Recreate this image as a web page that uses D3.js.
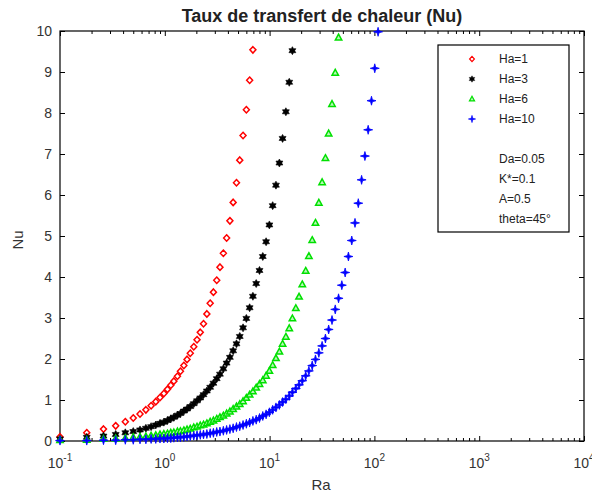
<!DOCTYPE html>
<html>
<head>
<meta charset="utf-8">
<script src="https://cdn.jsdelivr.net/npm/d3@7"></script>
<style>
body { margin: 0; background: #fff; }
text { font-family: "Liberation Sans", Arial, sans-serif; }
</style>
</head>
<body>
<svg id="chart"></svg>
<script>
// Ra grid shared by all series
const raValues = [0.1, 0.18, 0.26, 0.34, 0.42, 0.5, 0.58, 0.66, 0.74, 0.82, 0.9, 0.98, 1.06,
    1.14, 1.22, 1.32, 1.41, 1.52, 1.63, 1.75, 1.89, 2.03, 2.18,
    2.34, 2.52, 2.71, 2.91, 3.13, 3.36, 3.62, 3.89, 4.18, 4.49,
    4.83, 5.19, 5.58, 6.0, 6.45, 6.93, 7.45, 8.01, 8.61, 9.26,
    9.95, 10.7, 11.5, 12.4, 13.3, 14.3, 15.4, 16.5, 17.8, 19.1,
    20.5, 22.1, 23.7, 25.5, 27.4, 29.5, 31.7, 34.1, 36.6, 39.4,
    42.3, 45.5, 48.9, 52.6, 56.5, 60.8, 65.3, 70.2, 75.5, 81.2,
    87.2, 93.8, 100.8, 108.4];

// Nu values, one array per Ha (stop where the curve leaves the plot)
const nuHa1 = [0.10, 0.20, 0.29, 0.37, 0.47, 0.56, 0.66, 0.76, 0.86, 0.96, 1.06, 1.16, 1.26,
    1.36, 1.46, 1.58, 1.70, 1.84, 1.99, 2.14, 2.30, 2.47, 2.65,
    2.86, 3.10, 3.36, 3.63, 3.92, 4.24, 4.58, 4.95, 5.37, 5.82,
    6.30, 6.85, 7.45, 8.08, 8.80, 9.54];
const nuHa3 = [0.05, 0.09, 0.12, 0.16, 0.20, 0.23, 0.27, 0.31, 0.35, 0.39, 0.43, 0.46, 0.50,
    0.54, 0.58, 0.63, 0.67, 0.73, 0.78, 0.84, 0.91, 0.98, 1.05,
    1.13, 1.22, 1.31, 1.41, 1.52, 1.63, 1.76, 1.90, 2.04, 2.20,
    2.37, 2.55, 2.76, 2.99, 3.25, 3.53, 3.84, 4.16, 4.50, 4.86,
    5.27, 5.74, 6.24, 6.78, 7.38, 8.03, 8.75, 9.52];
const nuHa6 = [0.02, 0.03, 0.05, 0.06, 0.07, 0.09, 0.10, 0.11, 0.13, 0.14, 0.16, 0.17, 0.18,
    0.20, 0.21, 0.23, 0.24, 0.26, 0.28, 0.30, 0.33, 0.35, 0.38,
    0.40, 0.43, 0.47, 0.50, 0.54, 0.58, 0.62, 0.67, 0.72, 0.78,
    0.84, 0.90, 0.97, 1.05, 1.13, 1.21, 1.30, 1.39, 1.48, 1.59,
    1.71, 1.85, 2.02, 2.18, 2.37, 2.54, 2.75, 2.99, 3.24, 3.52,
    3.82, 4.15, 4.51, 4.90, 5.32, 5.81, 6.31, 6.90, 7.50, 8.22,
    8.98, 9.84];
const nuHa10 = [0.01, 0.01, 0.02, 0.02, 0.03, 0.03, 0.04, 0.04, 0.05, 0.05, 0.06, 0.06, 0.07,
    0.07, 0.08, 0.09, 0.09, 0.10, 0.11, 0.12, 0.13, 0.14, 0.15,
    0.16, 0.17, 0.19, 0.20, 0.22, 0.23, 0.25, 0.27, 0.29, 0.31,
    0.34, 0.36, 0.39, 0.42, 0.45, 0.49, 0.52, 0.56, 0.61, 0.65,
    0.70, 0.76, 0.82, 0.88, 0.95, 1.02, 1.10, 1.19, 1.28, 1.37,
    1.47, 1.59, 1.71, 1.84, 1.99, 2.15, 2.32, 2.50, 2.72, 2.95,
    3.21, 3.48, 3.80, 4.11, 4.50, 4.89, 5.32, 5.80, 6.37, 6.95,
    7.59, 8.30, 9.09, 9.98];

const seriesNames = ["Ha=1", "Ha=3", "Ha=6", "Ha=10"];
const paramLines = ["Da=0.05", "K*=0.1", "A=0.5", "theta=45\u00b0"];
const xTickExps = [-1, 0, 1, 2, 3, 4];
const yTickValues = [0, 1, 2, 3, 4, 5, 6, 7, 8, 9, 10];

var w = 592;
var h = 495;
var svg = d3.select("#chart").attr("width", w).attr("height", h);

var x = d3.scaleLog().domain([0.1, 1e4]).range([60, 584]);
var y = d3.scaleLinear().domain([0, 10]).range([441, 31]);

// marker shapes
function hexagram(r) {
    var p = "";
    for (var i = 0; i < 12; i++) {
        var a = Math.PI / 6 * i - Math.PI / 2;
        var rr = i % 2 === 0 ? r : r * 0.58;
        p += (i === 0 ? "M" : "L") + (rr * Math.cos(a)).toFixed(2) + "," + (rr * Math.sin(a)).toFixed(2);
    }
    return p + "Z";
}
function star4(r) {
    var p = "";
    for (var i = 0; i < 8; i++) {
        var a = Math.PI / 4 * i - Math.PI / 2;
        var rr = i % 2 === 0 ? r : r * 0.3;
        p += (i === 0 ? "M" : "L") + (rr * Math.cos(a)).toFixed(2) + "," + (rr * Math.sin(a)).toFixed(2);
    }
    return p + "Z";
}
const series = [
    { name: seriesNames[0], values: nuHa1, color: "#ff0000", path: "M0,-3.2L3,0L0,3.2L-3,0Z", fill: "#fff", sw: 1.5 },
    { name: seriesNames[1], values: nuHa3, color: "#000000", path: hexagram(4), fill: "#000", sw: 0.6 },
    { name: seriesNames[2], values: nuHa6, color: "#00e000", path: "M0,-3.4L3.2,2.4L-3.2,2.4Z", fill: "#b8f5b8", sw: 1.5 },
    { name: seriesNames[3], values: nuHa10, color: "#0000ff", path: star4(4.5), fill: "#0000ff", sw: 0.8 }
];

// frame
svg.append("rect")
    .attr("x", 60).attr("y", 31)
    .attr("width", 524).attr("height", 410)
    .attr("fill", "none").attr("stroke", "#000").attr("stroke-width", 1.2);

// ticks (inward, all four sides)
var majorX = xTickExps.map((e) => Math.pow(10, e));
var minorX = [];
xTickExps.slice(0, -1).forEach((e) => {
    for (var k = 2; k < 10; k++) minorX.push(k * Math.pow(10, e));
});

function tickAxis(axis, transform) {
    var g = svg.append("g").attr("transform", transform).call(axis);
    g.select(".domain").remove();
    g.selectAll("line").attr("stroke", "#000");
    g.selectAll("text").remove();
}
tickAxis(d3.axisBottom(x).tickValues(majorX).tickSize(-5), "translate(0,441)");
tickAxis(d3.axisBottom(x).tickValues(minorX).tickSize(-3), "translate(0,441)");
tickAxis(d3.axisTop(x).tickValues(majorX).tickSize(-5), "translate(0,31)");
tickAxis(d3.axisTop(x).tickValues(minorX).tickSize(-3), "translate(0,31)");
tickAxis(d3.axisRight(y).tickValues(yTickValues).tickSize(-5), "translate(584,0)");

var yAxis = svg.append("g")
    .attr("transform", "translate(60,0)")
    .call(d3.axisLeft(y).tickValues(yTickValues).tickSize(-5).tickPadding(8).tickFormat(d3.format("d")));
yAxis.select(".domain").remove();
yAxis.selectAll("text")
    .attr("font-family", "'Liberation Sans', Arial, sans-serif")
    .attr("font-size", 14)
    .attr("fill", "#333");

// x tick labels 10^n
var xl = svg.append("g").selectAll("text")
    .data(xTickExps)
    .enter()
    .append("text")
    .attr("x", (d) => x(Math.pow(10, d)))
    .attr("y", 468)
    .attr("text-anchor", "middle")
    .attr("font-size", 14)
    .attr("fill", "#333");
xl.append("tspan").text("10");
xl.append("tspan").attr("dy", -7).attr("font-size", 10).text((d) => d);

// data markers
series.forEach((s) => {
    svg.append("g").selectAll("path")
        .data(s.values)
        .enter()
        .append("path")
        .attr("transform", (d, i) => "translate(" + x(raValues[i]) + "," + y(d) + ")")
        .attr("d", s.path)
        .attr("fill", s.fill)
        .attr("stroke", s.color)
        .attr("stroke-width", s.sw);
});

// title and axis labels
svg.append("text")
    .attr("x", 322).attr("y", 22)
    .attr("text-anchor", "middle")
    .attr("font-size", 18).attr("font-weight", "bold")
    .attr("fill", "#222")
    .text("Taux de transfert de chaleur (Nu)");
svg.append("text")
    .attr("x", 321).attr("y", 490)
    .attr("text-anchor", "middle")
    .attr("font-size", 15).attr("fill", "#333")
    .text("Ra");
svg.append("text")
    .attr("transform", "translate(23,240) rotate(-90)")
    .attr("text-anchor", "middle")
    .attr("font-size", 15).attr("fill", "#333")
    .text("Nu");

// legend
var legend = svg.append("g");
legend.append("rect")
    .attr("x", 438).attr("y", 45)
    .attr("width", 131).attr("height", 187)
    .attr("fill", "#fff").attr("stroke", "#000").attr("stroke-width", 1.2);
legend.selectAll("path")
    .data(series)
    .enter()
    .append("path")
    .attr("transform", (d, i) => "translate(472," + (59 + i * 20) + ") scale(0.8)")
    .attr("d", (d) => d.path)
    .attr("fill", (d) => d.fill)
    .attr("stroke", (d) => d.color)
    .attr("stroke-width", (d) => d.sw);
legend.selectAll("text.name")
    .data(seriesNames.concat([""], paramLines))
    .enter()
    .append("text")
    .attr("class", "name")
    .attr("x", 499)
    .attr("y", (d, i) => 59 + i * 20)
    .attr("dy", "0.35em")
    .attr("font-family", "'DejaVu Sans', sans-serif")
    .attr("font-size", 12)
    .attr("fill", "#222")
    .text((d) => d);
</script>
</body>
</html>
